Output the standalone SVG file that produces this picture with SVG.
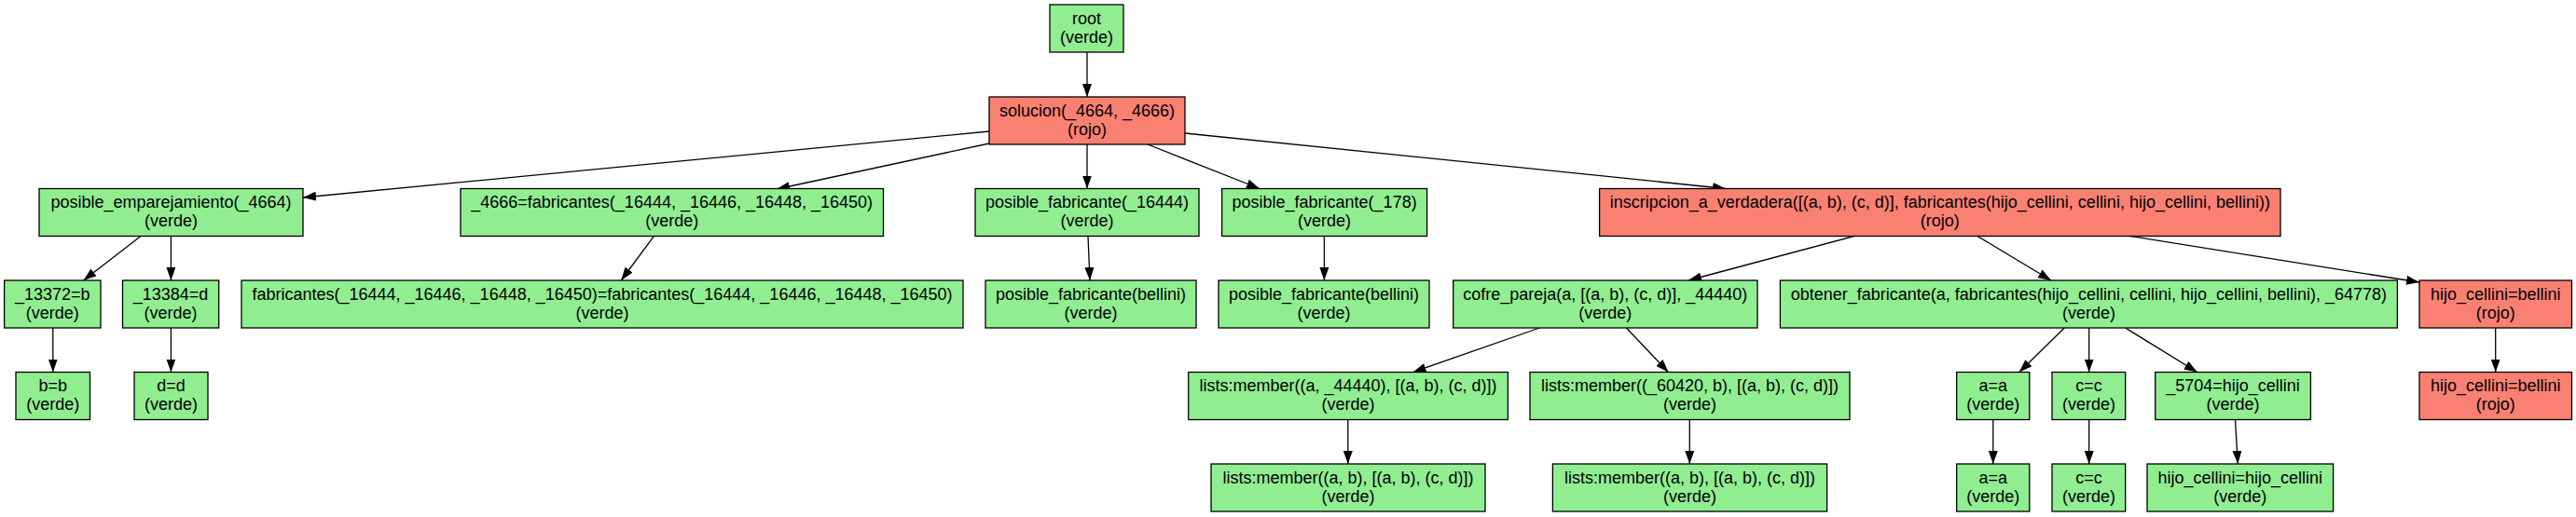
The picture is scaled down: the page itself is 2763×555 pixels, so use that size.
<svg xmlns="http://www.w3.org/2000/svg" width="2763" height="555" viewBox="0 0 2763 555">
<defs>
<marker id="arr" markerUnits="userSpaceOnUse" markerWidth="14" markerHeight="10" refX="14" refY="5" orient="auto">
<path d="M0,0 L14,5 L0,10 z" fill="#000"/>
</marker>
<style>
.g{fill:#90EE90;stroke:#000;stroke-width:1.3}
.r{fill:#FA8072;stroke:#000;stroke-width:1.3}
text{font-family:"Liberation Sans",Arial,sans-serif;font-size:18px;text-anchor:middle;fill:#000}
.e line{stroke:#000;stroke-width:1.3;fill:none;marker-end:url(#arr)}
</style>
</defs>
<rect width="2763" height="555" fill="#fff"/>
<g id="edges" class="e">
<line x1="1166" y1="56" x2="1166" y2="104"/>
<line x1="1061" y1="141" x2="325" y2="212"/>
<line x1="1061" y1="154" x2="833" y2="203"/>
<line x1="1166" y1="155" x2="1166" y2="202.5"/>
<line x1="1231" y1="155" x2="1351" y2="202.5"/>
<line x1="1271" y1="143" x2="1851" y2="202.5"/>
<line x1="151" y1="253.5" x2="89.5" y2="301"/>
<line x1="183.4" y1="253.5" x2="183.4" y2="301"/>
<line x1="56.8" y1="352" x2="56.8" y2="399.5"/>
<line x1="183.4" y1="352" x2="183.4" y2="399.5"/>
<line x1="701.4" y1="253.5" x2="666.2" y2="301"/>
<line x1="1167" y1="253.5" x2="1169" y2="301"/>
<line x1="1420.4" y1="253.5" x2="1420.4" y2="301"/>
<line x1="1988.5" y1="253.5" x2="1811" y2="301"/>
<line x1="2121" y1="253.5" x2="2200" y2="301"/>
<line x1="2285" y1="253.5" x2="2595" y2="303"/>
<line x1="1651.4" y1="352" x2="1515.6" y2="399.5"/>
<line x1="1744.4" y1="352" x2="1789.5" y2="399.5"/>
<line x1="2214.3" y1="352" x2="2165.8" y2="399.5"/>
<line x1="2240.7" y1="352" x2="2240.7" y2="399.5"/>
<line x1="2279.7" y1="352" x2="2356.8" y2="399.5"/>
<line x1="2676.7" y1="352" x2="2676.7" y2="399.5"/>
<line x1="1445.8" y1="450.5" x2="1445.8" y2="498"/>
<line x1="1812.3" y1="450.5" x2="1812.3" y2="498"/>
<line x1="2137.8" y1="450.5" x2="2137.8" y2="498"/>
<line x1="2240.7" y1="450.5" x2="2240.7" y2="498"/>
<line x1="2397.5" y1="450.5" x2="2400.3" y2="498"/>
</g>
<g id="n_root"><rect class="g" x="1126" y="5" width="79" height="51"/><text x="1165.5" y="25.5">root</text><text x="1165.5" y="45.5">(verde)</text></g>
<g id="n_solucion"><rect class="r" x="1061" y="104" width="210" height="51"/><text x="1166" y="124.5">solucion(_4664, _4666)</text><text x="1166" y="144.5">(rojo)</text></g>
<g id="n_posible_emp"><rect class="g" x="42" y="202.5" width="283" height="51"/><text x="183.5" y="223">posible_emparejamiento(_4664)</text><text x="183.5" y="243">(verde)</text></g>
<g id="n_4666"><rect class="g" x="494" y="202.5" width="453.5" height="51"/><text x="720.7" y="223">_4666=fabricantes(_16444, _16446, _16448, _16450)</text><text x="720.7" y="243">(verde)</text></g>
<g id="n_pf16444"><rect class="g" x="1046" y="202.5" width="240" height="51"/><text x="1166" y="223">posible_fabricante(_16444)</text><text x="1166" y="243">(verde)</text></g>
<g id="n_pf178"><rect class="g" x="1310.6" y="202.5" width="220" height="51"/><text x="1420.6" y="223">posible_fabricante(_178)</text><text x="1420.6" y="243">(verde)</text></g>
<g id="n_inscripcion"><rect class="r" x="1715.6" y="202.5" width="730.4" height="51"/><text x="2080.8" y="223">inscripcion_a_verdadera([(a, b), (c, d)], fabricantes(hijo_cellini, cellini, hijo_cellini, bellini))</text><text x="2080.8" y="243">(rojo)</text></g>
<g id="n_13372"><rect class="g" x="4.6" y="301" width="103.4" height="51"/><text x="56.3" y="321.5">_13372=b</text><text x="56.3" y="341.5">(verde)</text></g>
<g id="n_13384"><rect class="g" x="131.5" y="301" width="103.2" height="51"/><text x="183.1" y="321.5">_13384=d</text><text x="183.1" y="341.5">(verde)</text></g>
<g id="n_fab"><rect class="g" x="259" y="301" width="774" height="51"/><text x="646" y="321.5">fabricantes(_16444, _16446, _16448, _16450)=fabricantes(_16444, _16446, _16448, _16450)</text><text x="646" y="341.5">(verde)</text></g>
<g id="n_pfb1"><rect class="g" x="1057" y="301" width="226" height="51"/><text x="1170" y="321.5">posible_fabricante(bellini)</text><text x="1170" y="341.5">(verde)</text></g>
<g id="n_pfb2"><rect class="g" x="1307" y="301" width="226" height="51"/><text x="1420" y="321.5">posible_fabricante(bellini)</text><text x="1420" y="341.5">(verde)</text></g>
<g id="n_cofre"><rect class="g" x="1558.7" y="301" width="326.3" height="51"/><text x="1721.8" y="321.5">cofre_pareja(a, [(a, b), (c, d)], _44440)</text><text x="1721.8" y="341.5">(verde)</text></g>
<g id="n_obtener"><rect class="g" x="1909.4" y="301" width="662" height="51"/><text x="2240.4" y="321.5">obtener_fabricante(a, fabricantes(hijo_cellini, cellini, hijo_cellini, bellini), _64778)</text><text x="2240.4" y="341.5">(verde)</text></g>
<g id="n_hcb"><rect class="r" x="2595" y="301" width="163.5" height="51"/><text x="2676.7" y="321.5">hijo_cellini=bellini</text><text x="2676.7" y="341.5">(rojo)</text></g>
<g id="n_bb"><rect class="g" x="17" y="399.5" width="79.5" height="51"/><text x="56.8" y="420">b=b</text><text x="56.8" y="440">(verde)</text></g>
<g id="n_dd"><rect class="g" x="144" y="399.5" width="79" height="51"/><text x="183.5" y="420">d=d</text><text x="183.5" y="440">(verde)</text></g>
<g id="n_lists1"><rect class="g" x="1274.7" y="399.5" width="342.7" height="51"/><text x="1446" y="420">lists:member((a, _44440), [(a, b), (c, d)])</text><text x="1446" y="440">(verde)</text></g>
<g id="n_lists2"><rect class="g" x="1641" y="399.5" width="343" height="51"/><text x="1812.5" y="420">lists:member((_60420, b), [(a, b), (c, d)])</text><text x="1812.5" y="440">(verde)</text></g>
<g id="n_aa1"><rect class="g" x="2098.7" y="399.5" width="78.1" height="51"/><text x="2137.8" y="420">a=a</text><text x="2137.8" y="440">(verde)</text></g>
<g id="n_cc1"><rect class="g" x="2201" y="399.5" width="78.7" height="51"/><text x="2240.4" y="420">c=c</text><text x="2240.4" y="440">(verde)</text></g>
<g id="n_5704"><rect class="g" x="2311.7" y="399.5" width="166.7" height="51"/><text x="2395" y="420">_5704=hijo_cellini</text><text x="2395" y="440">(verde)</text></g>
<g id="n_hcb2"><rect class="r" x="2595" y="399.5" width="163.5" height="51"/><text x="2676.7" y="420">hijo_cellini=bellini</text><text x="2676.7" y="440">(rojo)</text></g>
<g id="n_lists1b"><rect class="g" x="1299" y="498" width="294" height="51"/><text x="1446" y="518.5">lists:member((a, b), [(a, b), (c, d)])</text><text x="1446" y="538.5">(verde)</text></g>
<g id="n_lists2b"><rect class="g" x="1665.4" y="498" width="294.2" height="51"/><text x="1812.5" y="518.5">lists:member((a, b), [(a, b), (c, d)])</text><text x="1812.5" y="538.5">(verde)</text></g>
<g id="n_aa2"><rect class="g" x="2098.7" y="498" width="78.1" height="51"/><text x="2137.8" y="518.5">a=a</text><text x="2137.8" y="538.5">(verde)</text></g>
<g id="n_cc2"><rect class="g" x="2201" y="498" width="78.7" height="51"/><text x="2240.4" y="518.5">c=c</text><text x="2240.4" y="538.5">(verde)</text></g>
<g id="n_hch"><rect class="g" x="2303" y="498" width="199.6" height="51"/><text x="2402.8" y="518.5">hijo_cellini=hijo_cellini</text><text x="2402.8" y="538.5">(verde)</text></g>
</svg>
